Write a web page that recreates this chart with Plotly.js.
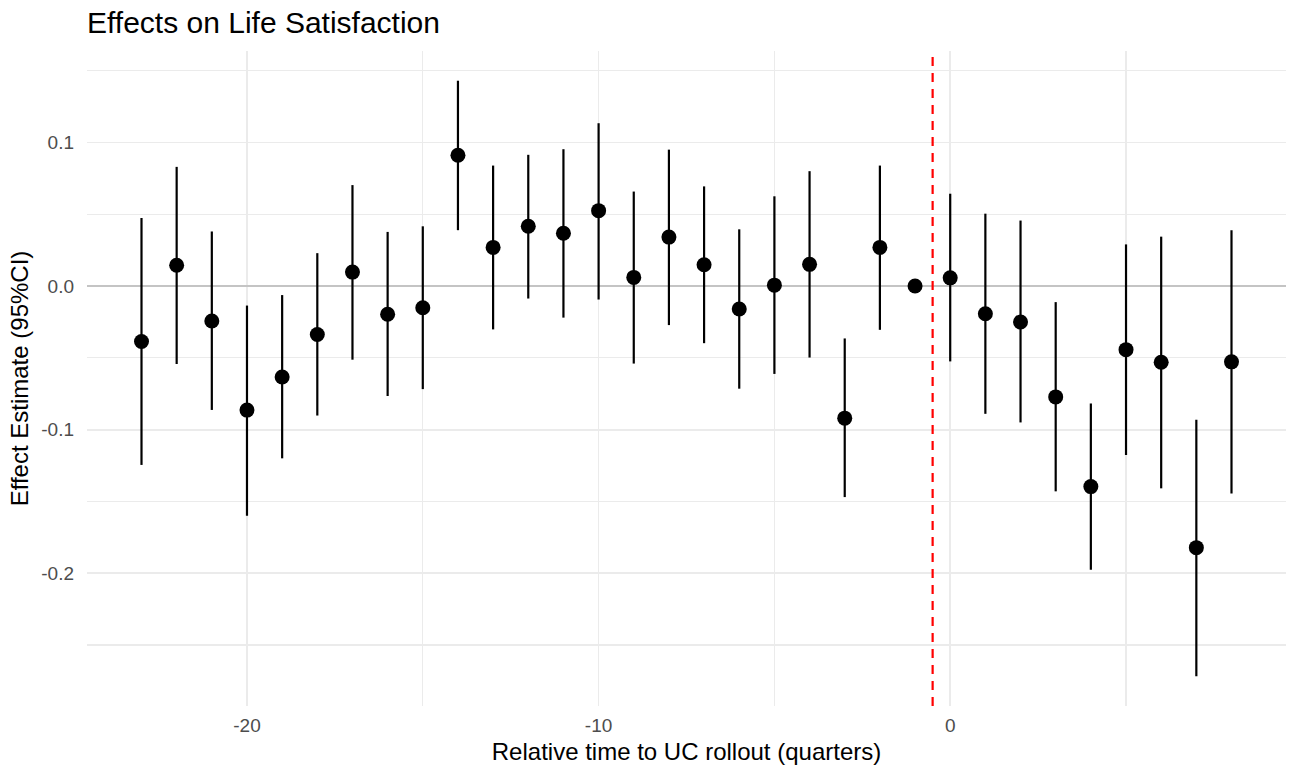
<!DOCTYPE html>
<html>
<head>
<meta charset="utf-8">
<script src="https://cdn.plot.ly/plotly-3.0.1.min.js"></script>
<style>
  html, body { margin: 0; padding: 0; background: #ffffff; }
  #chart { width: 1294px; height: 771px; }
</style>
</head>
<body>
<div id="chart"></div>
<script>
// Event-study estimates: quarters relative to UC rollout (-1 is the reference period)
const quarters = [-23, -22, -21, -20, -19, -18, -17, -16, -15, -14, -13, -12, -11, -10, -9, -8,
                  -7, -6, -5, -4, -3, -2, -1, 0, 1, 2, 3, 4, 5, 6, 7, 8];
const estimate = [-0.0386, 0.0145, -0.0244, -0.0864, -0.0634, -0.0338, 0.0097, -0.0196,
                  -0.0151, 0.0911, 0.0269, 0.0416, 0.0368, 0.0525, 0.0060, 0.0341,
                  0.0148, -0.0160, 0.0006, 0.0151, -0.0920, 0.0269, 0.0000, 0.0057,
                  -0.0193, -0.0250, -0.0772, -0.1397, -0.0443, -0.0531, -0.1822, -0.0528];
const ciUpper  = [0.0474, 0.0830, 0.0380, -0.0136, -0.0063, 0.0229, 0.0703, 0.0377,
                  0.0416, 0.1430, 0.0839, 0.0914, 0.0953, 0.1134, 0.0658, 0.0950,
                  0.0694, 0.0395, 0.0625, 0.0800, -0.0365, 0.0839, 0.0000, 0.0643,
                  0.0504, 0.0456, -0.0112, -0.0818, 0.0290, 0.0344, -0.0932, 0.0389];
const ciLower  = [-0.1246, -0.0543, -0.0863, -0.1600, -0.1200, -0.0902, -0.0513, -0.0766,
                  -0.0718, 0.0389, -0.0302, -0.0087, -0.0220, -0.0094, -0.0540, -0.0272,
                  -0.0398, -0.0715, -0.0612, -0.0498, -0.1470, -0.0305, 0.0000, -0.0525,
                  -0.0890, -0.0950, -0.1430, -0.1976, -0.1177, -0.1409, -0.2718, -0.1445];

// Axis ticks
const xTickVals = [-20, -10, 0];
const xTickText = ['-20', '-10', '0'];
const xMinorVals = [-15, -5, 5];
const yTickVals = [-0.2, -0.1, 0.0, 0.1];
const yTickText = ['-0.2', '-0.1', '0.0', '0.1'];
const yMinorVals = [-0.25, -0.15, -0.05, 0.05, 0.15];

// Treatment onset marker sits between the reference quarter and quarter 0
const rolloutLine = -0.5;

const FONT = 'Liberation Sans, Arial, Helvetica, sans-serif';
const GRID = '#EBEBEB';

const trace = {
  type: 'scatter',
  mode: 'markers',
  x: quarters,
  y: estimate,
  marker: { color: '#000000', size: 15 },
  error_y: {
    type: 'data',
    symmetric: false,
    array: ciUpper.map((u, i) => u - estimate[i]),
    arrayminus: ciLower.map((l, i) => estimate[i] - l),
    color: '#000000',
    thickness: 2.2,
    width: 0
  },
  hoverinfo: 'x+y',
  showlegend: false
};

const layout = {
  width: 1294,
  height: 771,
  paper_bgcolor: '#ffffff',
  plot_bgcolor: '#ffffff',
  font: { family: FONT, color: '#000000' },
  margin: { l: 87, r: 8, t: 51, b: 65, pad: 0 },
  title: {
    text: 'Effects on Life Satisfaction',
    font: { family: FONT, size: 30, color: '#000000' },
    xref: 'paper', x: 0, xanchor: 'left',
    yref: 'container', y: 1 - 22 / 771, yanchor: 'middle'
  },
  xaxis: {
    range: [-24.55, 9.55],
    tickmode: 'array',
    tickvals: xTickVals,
    ticktext: xTickText,
    ticks: '',
    ticklabelstandoff: 6,
    tickfont: { family: FONT, size: 19, color: '#4D4D4D' },
    showline: false,
    zeroline: false,
    showgrid: true,
    gridcolor: GRID,
    gridwidth: 1.8,
    minor: { tickmode: 'array', tickvals: xMinorVals, showgrid: true, gridcolor: GRID, gridwidth: 1.2, ticks: '' },
    automargin: false,
    title: { text: 'Relative time to UC rollout (quarters)', font: { family: FONT, size: 24, color: '#000000' }, standoff: 8 }
  },
  yaxis: {
    range: [-0.2925, 0.1637],
    tickmode: 'array',
    tickvals: yTickVals,
    ticktext: yTickText,
    ticks: '',
    ticklabelstandoff: 12,
    tickfont: { family: FONT, size: 19, color: '#4D4D4D' },
    showline: false,
    zeroline: true,
    zerolinecolor: '#C4C4C4',
    zerolinewidth: 2,
    showgrid: true,
    gridcolor: GRID,
    gridwidth: 1.8,
    minor: { tickmode: 'array', tickvals: yMinorVals, showgrid: true, gridcolor: GRID, gridwidth: 1.2, ticks: '' },
    automargin: false,
    title: { text: 'Effect Estimate (95%CI)', font: { family: FONT, size: 24, color: '#000000' }, standoff: 5 }
  },
  shapes: [{
    type: 'line',
    xref: 'x', yref: 'paper',
    x0: rolloutLine, x1: rolloutLine, y0: 0, y1: 1,
    line: { color: '#FF0000', width: 2.2, dash: '9px,7px' },
    layer: 'above'
  }]
};

Plotly.newPlot('chart', [trace], layout, { displayModeBar: false, staticPlot: true });
</script>
</body>
</html>
